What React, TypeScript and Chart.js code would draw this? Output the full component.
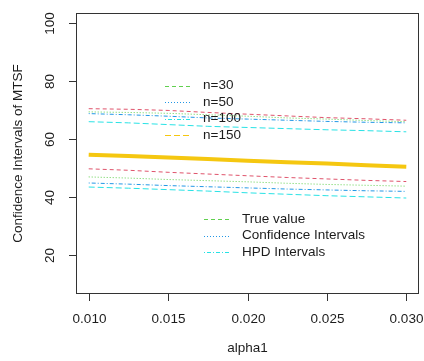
import React, { useEffect, useRef } from "react";
import { Chart, registerables } from "chart.js";

Chart.register(...registerables);

// alpha1 values along the horizontal axis
const alphaValues = [0.01, 0.0125, 0.015, 0.0175, 0.02, 0.0225, 0.025, 0.0275, 0.03];

// Upper and lower interval bounds (MTSF) and the true value
const redUpper = [70.5, 70.3, 69.9, 69.2, 68.6, 68.0, 67.4, 67.0, 66.5];
const greenUpper = [69.4, 69.2, 68.9, 68.4, 67.9, 67.3, 66.9, 66.4, 66.0];
const blueUpper = [68.8, 68.4, 67.9, 67.3, 66.9, 66.5, 66.1, 65.8, 65.6];
const cyanUpper = [66.0, 65.6, 65.0, 64.4, 64.0, 63.6, 63.2, 62.9, 62.5];
const trueValue = [54.6, 54.1, 53.6, 53.1, 52.5, 52.0, 51.5, 50.9, 50.4];
const redLower = [49.7, 49.2, 48.5, 47.9, 47.3, 46.7, 46.2, 45.7, 45.3];
const greenLower = [46.9, 46.5, 46.0, 45.6, 45.2, 44.7, 44.3, 44.0, 43.7];
const blueLower = [44.8, 44.4, 43.9, 43.5, 43.1, 42.7, 42.4, 42.1, 41.9];
const cyanLower = [43.4, 43.0, 42.5, 42.0, 41.4, 40.9, 40.4, 40.0, 39.6];

// Axis ticks
const xTicks = [0.01, 0.015, 0.02, 0.025, 0.03];
const xTickLabels = ["0.010", "0.015", "0.020", "0.025", "0.030"];
const yTicks = [20, 40, 60, 80, 100];

// Legend entries
const sampleLabels = ["n=30", "n=50", "n=100", "n=150"];
const typeLabels = ["True value", "Confidence Intervals", "HPD Intervals"];

const RED = "#DF536B";
const GREEN = "#61D04F";
const BLUE = "#2297E6";
const CYAN = "#28E2E5";
const GOLD = "#F5C710";

const DASHED = [4, 3];
const DOTTED = [1, 2];
const DOTDASH = [1, 2, 4, 2];
const LONGDASH = [6, 3];

const FONT = '13.5px "Liberation Sans", Arial, sans-serif';
const INK = "#1c1c1c";

function series(values: number[], color: string, dash: number[], width = 1) {
  return {
    data: alphaValues.map((x, i) => ({ x, y: values[i] })),
    borderColor: color,
    borderWidth: width,
    borderDash: dash,
    pointRadius: 0,
    fill: false,
    tension: 0,
  };
}

const decorations = {
  id: "baseDecorations",
  afterDraw(chart: any) {
    const ctx = chart.ctx as CanvasRenderingContext2D;
    const { left, right, top, bottom } = chart.chartArea;
    const xs = chart.scales.x;
    const ys = chart.scales.y;
    ctx.save();
    ctx.strokeStyle = "#333";
    ctx.lineWidth = 1;
    ctx.setLineDash([]);
    ctx.strokeRect(left + 0.5, top + 0.5, right - left - 1, bottom - top - 1);

    ctx.fillStyle = INK;
    ctx.font = FONT;

    // x axis ticks and labels
    ctx.textAlign = "center";
    ctx.textBaseline = "middle";
    xTicks.forEach((v, i) => {
      const px = Math.round(xs.getPixelForValue(v)) + 0.5;
      ctx.beginPath();
      ctx.moveTo(px, bottom);
      ctx.lineTo(px, bottom + 7);
      ctx.stroke();
      ctx.fillText(xTickLabels[i], px, bottom + 25);
    });
    ctx.fillText("alpha1", (xs.getPixelForValue(0.02)), bottom + 54);

    // y axis ticks and rotated labels
    yTicks.forEach((v) => {
      const py = Math.round(ys.getPixelForValue(v)) + 0.5;
      ctx.beginPath();
      ctx.moveTo(left - 7, py);
      ctx.lineTo(left, py);
      ctx.stroke();
      ctx.save();
      ctx.translate(left - 26, py);
      ctx.rotate(-Math.PI / 2);
      ctx.fillText(String(v), 0, 0);
      ctx.restore();
    });
    ctx.save();
    ctx.translate(18, (top + bottom) / 2);
    ctx.rotate(-Math.PI / 2);
    ctx.fillText("Confidence Intervals of MTSF", 0, 0);
    ctx.restore();

    // legends (no frame)
    const drawLegend = (
      labels: string[],
      colors: string[],
      dashes: number[][],
      x0: number,
      y0: number,
      step: number
    ) => {
      ctx.textAlign = "left";
      labels.forEach((lab, i) => {
        const y = y0 + i * step;
        ctx.strokeStyle = colors[i];
        ctx.setLineDash(dashes[i]);
        ctx.lineWidth = 1;
        ctx.beginPath();
        ctx.moveTo(x0, Math.round(y) + 0.5);
        ctx.lineTo(x0 + 27, Math.round(y) + 0.5);
        ctx.stroke();
        ctx.setLineDash([]);
        ctx.fillStyle = INK;
        ctx.fillText(lab, x0 + 38, y);
      });
    };
    drawLegend(
      sampleLabels,
      [GREEN, BLUE, CYAN, GOLD],
      [DASHED, DOTTED, DOTDASH, LONGDASH],
      165,
      85.5,
      16.5
    );
    drawLegend(
      typeLabels,
      [GREEN, BLUE, CYAN],
      [DASHED, DOTTED, DOTDASH],
      204,
      219,
      16.5
    );
    ctx.restore();
  },
};

export default function App() {
  const canvasRef = useRef<HTMLCanvasElement | null>(null);

  useEffect(() => {
    if (!canvasRef.current) return;
    const chart = new Chart(canvasRef.current, {
      type: "line",
      data: {
        datasets: [
          series(redUpper, RED, DASHED),
          series(greenUpper, GREEN, DOTTED),
          series(blueUpper, BLUE, DOTDASH),
          series(cyanUpper, CYAN, LONGDASH),
          series(trueValue, GOLD, [], 4),
          series(redLower, RED, DASHED),
          series(greenLower, GREEN, DOTTED),
          series(blueLower, BLUE, DOTDASH),
          series(cyanLower, CYAN, LONGDASH),
        ] as any,
      },
      options: {
        animation: false,
        responsive: false,
        devicePixelRatio: 1,
        layout: { padding: { left: 76, right: 5, top: 13, bottom: 67 } },
        scales: {
          x: { type: "linear", min: 0.0092, max: 0.0308, display: false },
          y: { type: "linear", min: 6.4, max: 103.6, display: false },
        },
        plugins: {
          legend: { display: false },
          tooltip: { enabled: false },
        },
      },
      plugins: [decorations],
    });
    return () => chart.destroy();
  }, []);

  return (
    <div style={{ position: "fixed", left: 0, top: 0, width: 424, height: 361, background: "#fff" }}>
      <canvas ref={canvasRef} width={424} height={361} style={{ display: "block" }} />
    </div>
  );
}
